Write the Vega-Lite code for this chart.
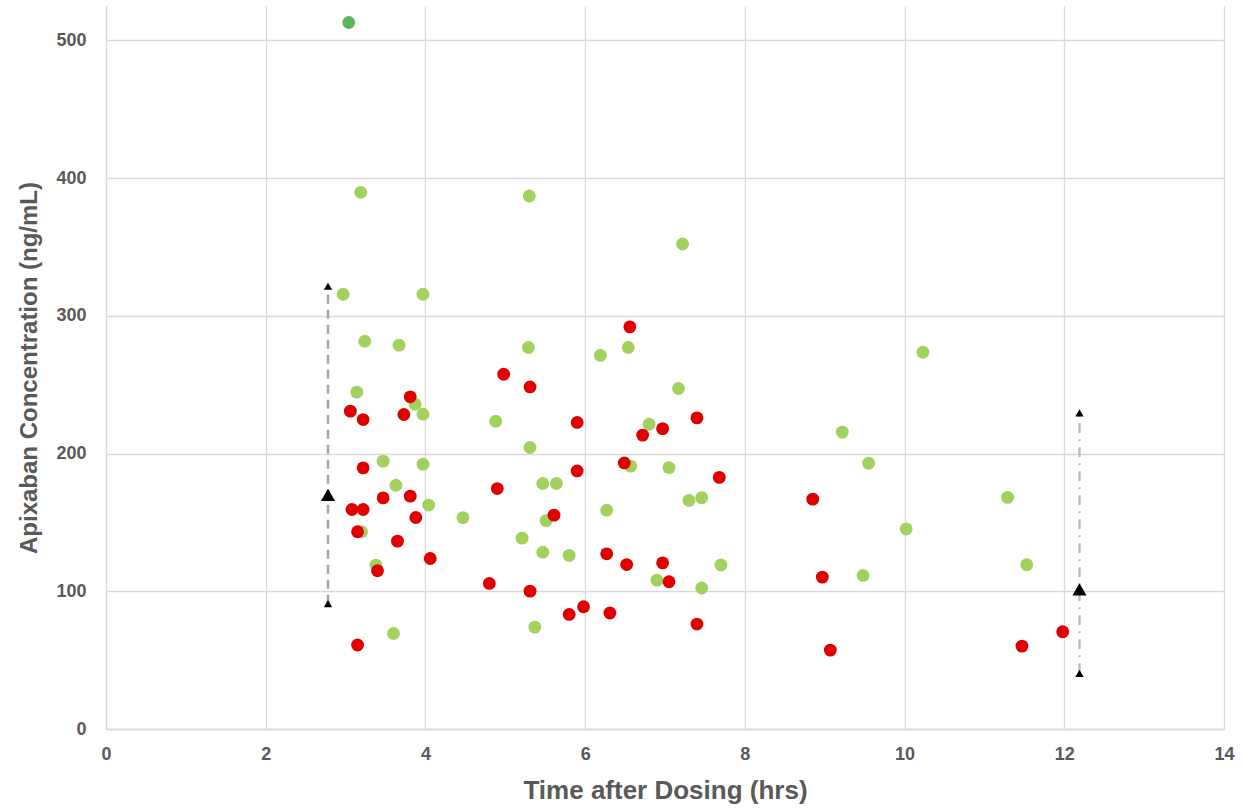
{
  "$schema": "https://vega.github.io/schema/vega-lite/v6.json",
  "width": 1118,
  "height": 723,
  "autosize": "none",
  "padding": {"left": 106, "top": 6, "right": 18, "bottom": 83},
  "view": {"stroke": null},
  "datasets": {
    "pts": [
      {"time": 3.19, "conc": 389.7, "group": "A"},
      {"time": 2.97, "conc": 315.7, "group": "A"},
      {"time": 3.97, "conc": 315.7, "group": "A"},
      {"time": 3.24, "conc": 281.6, "group": "A"},
      {"time": 3.67, "conc": 278.7, "group": "A"},
      {"time": 3.14, "conc": 244.6, "group": "A"},
      {"time": 3.87, "conc": 235.8, "group": "A"},
      {"time": 3.97, "conc": 228.6, "group": "A"},
      {"time": 3.47, "conc": 194.5, "group": "A"},
      {"time": 3.97, "conc": 192.3, "group": "A"},
      {"time": 3.63, "conc": 177.0, "group": "A"},
      {"time": 4.04, "conc": 162.6, "group": "A"},
      {"time": 3.2, "conc": 143.2, "group": "A"},
      {"time": 3.38, "conc": 119.0, "group": "A"},
      {"time": 3.6, "conc": 69.4, "group": "A"},
      {"time": 4.47, "conc": 153.5, "group": "A"},
      {"time": 5.3, "conc": 387.0, "group": "A"},
      {"time": 4.88, "conc": 223.5, "group": "A"},
      {"time": 5.29, "conc": 277.0, "group": "A"},
      {"time": 5.31, "conc": 204.4, "group": "A"},
      {"time": 5.47, "conc": 178.3, "group": "A"},
      {"time": 5.64, "conc": 178.3, "group": "A"},
      {"time": 5.51, "conc": 151.3, "group": "A"},
      {"time": 5.21, "conc": 138.6, "group": "A"},
      {"time": 5.47, "conc": 128.4, "group": "A"},
      {"time": 5.8, "conc": 126.1, "group": "A"},
      {"time": 5.37, "conc": 74.0, "group": "A"},
      {"time": 6.19, "conc": 271.3, "group": "A"},
      {"time": 6.54, "conc": 277.0, "group": "A"},
      {"time": 6.27, "conc": 158.9, "group": "A"},
      {"time": 6.57, "conc": 190.9, "group": "A"},
      {"time": 6.8, "conc": 221.3, "group": "A"},
      {"time": 7.22, "conc": 352.2, "group": "A"},
      {"time": 7.17, "conc": 247.3, "group": "A"},
      {"time": 7.05, "conc": 189.8, "group": "A"},
      {"time": 7.3, "conc": 166.0, "group": "A"},
      {"time": 7.46, "conc": 168.0, "group": "A"},
      {"time": 6.9, "conc": 108.1, "group": "A"},
      {"time": 7.46, "conc": 102.4, "group": "A"},
      {"time": 7.7, "conc": 119.1, "group": "A"},
      {"time": 9.22, "conc": 215.6, "group": "A"},
      {"time": 9.55, "conc": 193.0, "group": "A"},
      {"time": 10.02, "conc": 145.3, "group": "A"},
      {"time": 9.48, "conc": 111.5, "group": "A"},
      {"time": 10.23, "conc": 273.6, "group": "A"},
      {"time": 11.29, "conc": 168.2, "group": "A"},
      {"time": 11.53, "conc": 119.3, "group": "A"},
      {"time": 3.81, "conc": 241.2, "group": "B"},
      {"time": 3.06, "conc": 230.8, "group": "B"},
      {"time": 3.22, "conc": 224.7, "group": "B"},
      {"time": 3.73, "conc": 228.4, "group": "B"},
      {"time": 3.22, "conc": 189.6, "group": "B"},
      {"time": 3.47, "conc": 167.8, "group": "B"},
      {"time": 3.81, "conc": 169.1, "group": "B"},
      {"time": 3.08, "conc": 159.4, "group": "B"},
      {"time": 3.22, "conc": 159.4, "group": "B"},
      {"time": 3.88, "conc": 153.6, "group": "B"},
      {"time": 3.15, "conc": 143.2, "group": "B"},
      {"time": 3.65, "conc": 136.4, "group": "B"},
      {"time": 4.06, "conc": 123.8, "group": "B"},
      {"time": 3.4, "conc": 114.9, "group": "B"},
      {"time": 3.15, "conc": 61.0, "group": "B"},
      {"time": 6.56, "conc": 292.0, "group": "B"},
      {"time": 4.98, "conc": 257.6, "group": "B"},
      {"time": 5.31, "conc": 248.4, "group": "B"},
      {"time": 5.9, "conc": 222.6, "group": "B"},
      {"time": 7.4, "conc": 225.9, "group": "B"},
      {"time": 6.97, "conc": 218.1, "group": "B"},
      {"time": 6.72, "conc": 213.4, "group": "B"},
      {"time": 5.9, "conc": 187.4, "group": "B"},
      {"time": 6.49, "conc": 193.2, "group": "B"},
      {"time": 7.68, "conc": 182.7, "group": "B"},
      {"time": 4.9, "conc": 174.6, "group": "B"},
      {"time": 5.61, "conc": 155.3, "group": "B"},
      {"time": 6.27, "conc": 127.2, "group": "B"},
      {"time": 6.52, "conc": 119.4, "group": "B"},
      {"time": 6.97, "conc": 120.6, "group": "B"},
      {"time": 7.05, "conc": 106.9, "group": "B"},
      {"time": 4.8, "conc": 105.7, "group": "B"},
      {"time": 5.31, "conc": 100.1, "group": "B"},
      {"time": 5.98, "conc": 88.8, "group": "B"},
      {"time": 5.8, "conc": 83.2, "group": "B"},
      {"time": 6.31, "conc": 84.2, "group": "B"},
      {"time": 7.4, "conc": 76.2, "group": "B"},
      {"time": 8.85, "conc": 166.9, "group": "B"},
      {"time": 8.97, "conc": 110.3, "group": "B"},
      {"time": 9.07, "conc": 57.3, "group": "B"},
      {"time": 11.47, "conc": 60.2, "group": "B"},
      {"time": 11.98, "conc": 70.6, "group": "B"},
      {"time": 3.04, "conc": 513.0, "group": "C"}
    ],
    "ranges": [
      {"time": 2.78, "lo": 91.0, "hi": 321.5, "mid": 170.0, "which": "left"},
      {"time": 12.19, "lo": 40.4, "hi": 229.5, "mid": 101.4, "which": "right"}
    ]
  },
  "encoding": {
    "x": {
      "field": "time", "type": "quantitative",
      "scale": {"domain": [0, 14], "nice": false},
      "axis": {
        "values": [0, 2, 4, 6, 8, 10, 12, 14], "format": "d", "title": "Time after Dosing (hrs)",
        "labelFontSize": 18, "labelFont": "Liberation Sans", "labelFontWeight": "bold", "labelColor": "#595959",
        "labelFlush": false, "labelPadding": 16,
        "titleFontSize": 26, "titleFont": "Liberation Sans", "titleFontWeight": "bold", "titleColor": "#595959", "titlePadding": 14,
        "tickSize": 0, "tickColor": "transparent", "grid": true, "gridColor": "#d9d9d9", "gridWidth": 1.3, "domainColor": "#d9d9d9", "domainWidth": 1.3
      }
    }
  },
  "layer": [
    {
      "data": {"name": "ranges"},
      "transform": [{"filter": "datum.which == 'left'"}],
      "mark": {"type": "rule", "color": "#a6a6a6", "strokeWidth": 2.5, "strokeDash": [9, 6]},
      "encoding": {
        "y": {
          "field": "lo", "type": "quantitative",
          "scale": {"domain": [0, 525], "nice": false},
          "axis": {
            "values": [0, 100, 200, 300, 400, 500], "format": "d", "title": "Apixaban Concentration (ng/mL)",
            "labelFontSize": 18, "labelFont": "Liberation Sans", "labelFontWeight": "bold", "labelColor": "#595959",
            "labelPadding": 20,
            "titleFontSize": 24, "titleFont": "Liberation Sans", "titleFontWeight": "bold", "titleColor": "#595959", "titlePadding": 14,
            "tickSize": 0, "tickColor": "transparent", "grid": true, "gridColor": "#d9d9d9", "gridWidth": 1.3, "domainColor": "#d9d9d9", "domainWidth": 1.3
          }
        },
        "y2": {"field": "hi"}
      }
    },
    {
      "data": {"name": "ranges"},
      "transform": [{"filter": "datum.which == 'right'"}],
      "mark": {"type": "rule", "color": "#bfbfbf", "strokeWidth": 2.5, "strokeDash": [10, 6, 2, 6]},
      "encoding": {
        "y": {"field": "lo", "type": "quantitative"},
        "y2": {"field": "hi"}
      }
    },
    {
      "data": {"name": "ranges"},
      "transform": [{"fold": ["lo", "hi"], "as": ["end", "val"]}],
      "mark": {"type": "point", "shape": "triangle-up", "filled": true, "color": "black", "size": 70, "opacity": 1},
      "encoding": {
        "y": {"field": "val", "type": "quantitative"}
      }
    },
    {
      "data": {"name": "ranges"},
      "mark": {"type": "point", "shape": "triangle-up", "filled": true, "color": "black", "size": 200, "opacity": 1},
      "encoding": {
        "y": {"field": "mid", "type": "quantitative"}
      }
    },
    {
      "data": {"name": "pts"},
      "transform": [{"calculate": "datum.group == 'A' ? 0 : 1", "as": "ord"}],
      "mark": {"type": "circle", "size": 165, "opacity": 1},
      "encoding": {
        "y": {"field": "conc", "type": "quantitative"},
        "color": {
          "field": "group", "type": "nominal",
          "scale": {"domain": ["A", "B", "C"], "range": ["#a3d15d", "#e00000", "#5db55a"]},
          "legend": null
        },
        "order": {"field": "ord", "type": "quantitative"}
      }
    }
  ]
}
